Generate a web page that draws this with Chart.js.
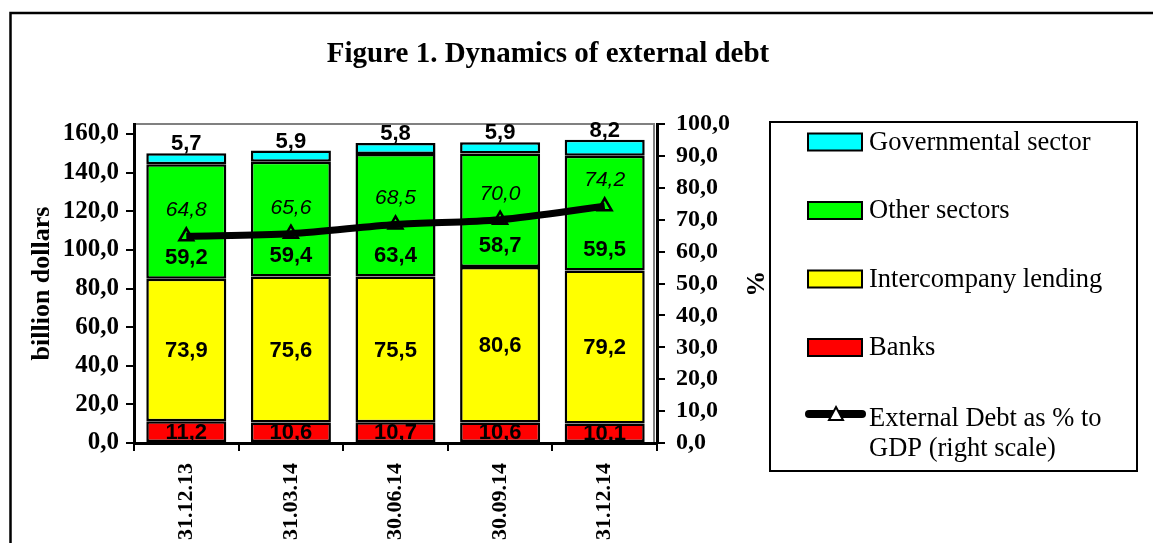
<!DOCTYPE html>
<html><head><meta charset="utf-8">
<script src="https://cdn.jsdelivr.net/npm/chart.js@4.4.1/dist/chart.umd.min.js"></script>
<style>html,body{margin:0;padding:0;background:#fff;}#c{display:block;}</style>
</head><body>
<canvas id="c" width="1153" height="543"></canvas>
<script>
const categories = ['31.12.13', '31.03.14', '30.06.14', '30.09.14', '31.12.14'];
const banks = [11.2, 10.6, 10.7, 10.6, 10.1];
const intercompany = [73.9, 75.6, 75.5, 80.6, 79.2];
const otherSectors = [59.2, 59.4, 63.4, 58.7, 59.5];
const governmental = [5.7, 5.9, 5.8, 5.9, 8.2];
const debtToGdp = [64.8, 65.6, 68.5, 70.0, 74.2];
const leftTicks = [0, 20, 40, 60, 80, 100, 120, 140, 160];
const rightTicks = [0, 10, 20, 30, 40, 50, 60, 70, 80, 90, 100];
const leftMax = 165.2;
const rightMax = 100;

const SERIF = "'Liberation Serif', 'Times New Roman', serif";
const SANS = "'Liberation Sans', Arial, sans-serif";
const fmt = v => Number(v).toFixed(1).replace('.', ',');

const decor = {
  id: 'decor',
  beforeDraw(chart) {
    const ctx = chart.ctx, a = chart.chartArea;
    ctx.save();
    ctx.fillStyle = '#fff';
    ctx.fillRect(0, 0, chart.width, chart.height);
    // outer frame
    ctx.strokeStyle = '#000';
    ctx.lineWidth = 2.5;
    ctx.beginPath();
    ctx.moveTo(10.5, chart.height);
    ctx.lineTo(10.5, 13);
    ctx.lineTo(chart.width, 13);
    ctx.stroke();
    // title
    ctx.fillStyle = '#000';
    ctx.font = 'bold 29px ' + SERIF;
    ctx.textAlign = 'center';
    ctx.textBaseline = 'middle';
    ctx.fillText('Figure 1. Dynamics of external debt', 548, 55);
    // plot area border
    ctx.strokeStyle = '#808080';
    ctx.lineWidth = 2;
    ctx.strokeRect(a.left, a.top, a.right - a.left - 3, a.bottom - a.top);
    ctx.restore();
  },
  afterDatasetsDraw(chart) {
    const ctx = chart.ctx;
    ctx.save();
    ctx.fillStyle = '#000';
    ctx.textAlign = 'center';
    ctx.textBaseline = 'middle';
    chart.data.datasets.forEach((ds, i) => {
      const meta = chart.getDatasetMeta(i);
      meta.data.forEach((el, j) => {
        const v = ds.data[j];
        let x = el.x, y;
        if (ds.labelMode === 'point') {
          ctx.font = 'italic 21px ' + SANS;
          y = el.y - 26;
        } else {
          ctx.font = 'bold 22px ' + SANS;
          if (ds.labelMode === 'center') y = (el.y + el.base) / 2 + 1;
          else if (ds.labelMode === 'base') y = el.base - 21;
          else y = el.y - 9;
        }
        ctx.fillText(fmt(v), x, y);
      });
    });
    ctx.restore();
  },
  afterDraw(chart) {
    const ctx = chart.ctx;
    ctx.save();
    // legend box
    ctx.strokeStyle = '#000';
    ctx.lineWidth = 2;
    ctx.strokeRect(770, 122, 367, 349);
    const items = [];
    chart.data.datasets.forEach(ds => { if (ds.type !== 'line') items.unshift(ds); });
    chart.data.datasets.forEach(ds => { if (ds.type === 'line') items.push(ds); });
    ctx.font = '26.5px ' + SERIF;
    ctx.textBaseline = 'middle';
    ctx.textAlign = 'left';
    items.forEach((ds, k) => {
      const cy = 142 + k * 68.5;
      if (ds.type === 'line') {
        const ly = cy - 2;
        ctx.strokeStyle = '#000';
        ctx.lineWidth = 8;
        ctx.lineCap = 'round';
        ctx.beginPath(); ctx.moveTo(809, ly); ctx.lineTo(862, ly); ctx.stroke();
        ctx.lineCap = 'butt';
        ctx.lineWidth = 2;
        ctx.fillStyle = '#fff';
        ctx.beginPath();
        ctx.moveTo(836, ly - 7); ctx.lineTo(843, ly + 6); ctx.lineTo(829, ly + 6); ctx.closePath();
        ctx.fill(); ctx.stroke();
        // wrapped text
        const words = ds.label.split(' ');
        const lines = []; let cur = '';
        words.forEach(w => {
          const t = cur ? cur + ' ' + w : w;
          if (ctx.measureText(t).width > 250 && cur) { lines.push(cur); cur = w; } else cur = t;
        });
        lines.push(cur);
        ctx.fillStyle = '#000';
        lines.forEach((ln, m) => ctx.fillText(ln, 869, cy + 3 + m * 30));
      } else {
        ctx.fillStyle = ds.backgroundColor;
        ctx.fillRect(808, cy - 8.5, 54, 17);
        ctx.strokeStyle = '#000';
        ctx.lineWidth = 2;
        ctx.strokeRect(808, cy - 8.5, 54, 17);
        ctx.fillStyle = '#000';
        ctx.fillText(ds.label, 869, cy + 1);
      }
    });
    ctx.restore();
  }
};

const barCommon = { borderColor: '#000', borderWidth: 2.5, borderSkipped: false, categoryPercentage: 1, barPercentage: 0.765, order: 2, yAxisID: 'y' };

new Chart(document.getElementById('c'), {
  type: 'bar',
  data: {
    labels: categories,
    datasets: [
      Object.assign({ label: 'Banks', data: banks, backgroundColor: '#FF0000', labelMode: 'center' }, barCommon),
      Object.assign({ label: 'Intercompany lending', data: intercompany, backgroundColor: '#FFFF00', labelMode: 'center' }, barCommon),
      Object.assign({ label: 'Other sectors', data: otherSectors, backgroundColor: '#00FF00', labelMode: 'base' }, barCommon),
      Object.assign({ label: 'Governmental sector', data: governmental, backgroundColor: '#00FFFF', labelMode: 'above' }, barCommon),
      {
        type: 'line', label: 'External Debt as % to GDP (right scale)', data: debtToGdp, yAxisID: 'y1', order: 1,
        borderColor: '#000', borderWidth: 7, tension: 0.3, fill: false,
        pointStyle: 'triangle', pointRadius: 8, pointBorderWidth: 2.5, pointBorderColor: '#000',
        pointBackgroundColor: 'rgba(0,0,0,0)', labelMode: 'point'
      }
    ]
  },
  options: {
    responsive: false,
    animation: false,
    devicePixelRatio: 1,
    layout: { padding: { left: 0, right: 376, top: 124, bottom: 0 } },
    plugins: { legend: { display: false }, tooltip: { enabled: false }, title: { display: false } },
    scales: {
      x: {
        stacked: true,
        grid: { display: true, drawOnChartArea: false, tickLength: 8, color: '#000', lineWidth: 2 },
        border: { display: true, color: '#000', width: 3 },
        ticks: { color: '#000', font: { family: SERIF, size: 22, weight: 'bold' }, minRotation: 90, maxRotation: 90, padding: 12, autoSkip: false },
        afterFit: s => { s.height = 100; }
      },
      y: {
        stacked: true, position: 'left', min: 0, max: leftMax,
        afterBuildTicks: s => { s.ticks = leftTicks.map(v => ({ value: v })); },
        grid: { drawOnChartArea: false, tickLength: 8, color: '#000', lineWidth: 2 },
        border: { display: true, color: '#000', width: 3 },
        ticks: { color: '#000', font: { family: SERIF, size: 25, weight: 'bold' }, padding: 7, callback: v => fmt(v) },
        title: { display: true, text: 'billion dollars', color: '#000', font: { family: SERIF, size: 26, weight: 'bold' }, padding: { top: 27, bottom: 0 } },
        afterFit: s => { s.width = 134; }
      },
      y1: {
        position: 'right', min: 0, max: rightMax,
        afterBuildTicks: s => { s.ticks = rightTicks.map(v => ({ value: v })); },
        grid: { drawOnChartArea: false, tickLength: 8, color: '#000', lineWidth: 2 },
        border: { display: true, color: '#000', width: 3 },
        ticks: { color: '#000', font: { family: SERIF, size: 24, weight: 'bold' }, padding: 11, callback: v => fmt(v) },
        title: { display: true, text: '%', color: '#000', font: { family: SERIF, size: 26, weight: 'bold' }, padding: { top: 8, bottom: 0 } },
        afterFit: s => { s.width = 120; }
      }
    }
  },
  plugins: [decor]
});
</script>
</body></html>
